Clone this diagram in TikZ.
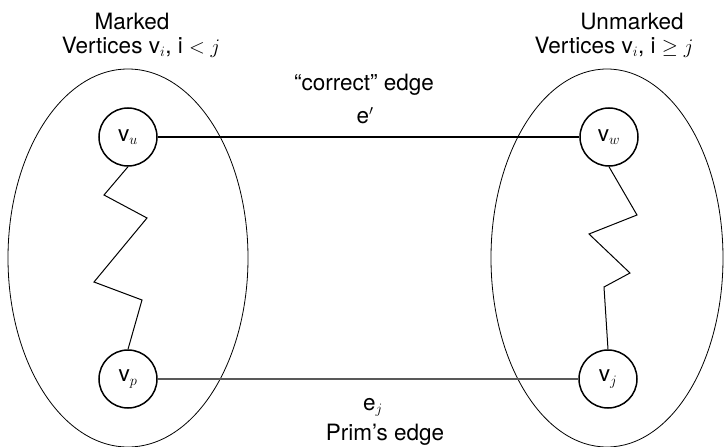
\documentclass[tikz,border=0pt]{standalone}
\usepackage{fontspec}
\setmainfont{TeX Gyre Heros}
\begin{document}
\begin{tikzpicture}[x=1pt,y=-1pt,
  vert/.style={circle,draw,line width=1.5pt,minimum size=58pt,inner sep=0pt},
  setline/.style={line width=0.8pt},
  edgeline/.style={line width=1.3pt},
  zig/.style={line width=1pt},
  lbl/.style={anchor=base,inner sep=0pt}]
\useasboundingbox (0,0) rectangle (724,447);
\fontsize{22.5}{26}\selectfont
\draw[setline] (128,258) ellipse [x radius=120, y radius=189];
\draw[setline] (607,258) ellipse [x radius=116, y radius=189];
\node[vert] (u) at (128,137) {v$_u$};
\node[vert] (p) at (128,379) {v$_p$};
\node[vert] (w) at (609,137) {v$_w$};
\node[vert] (j) at (608,379) {v$_j$};
\draw[edgeline] (u) -- (w);
\draw[edgeline,black!65] (p) -- (j);
\draw[zig] (u.south) -- (104,195) -- (147,218) -- (94,282) -- (142,300) -- (p.north);
\draw[zig] (w.south) -- (637,215) -- (589,234) -- (630,273) -- (604,287) -- (j.north);
\node[lbl] (m1) at (132,30) {Marked};
\node[lbl] (m2) at (141,53) {Vertices v$_i$, i $<j$};
\node[lbl] (n1) at (632,30) {Unmarked};
\node[lbl] (n2) at (614,53) {Vertices v$_i$, i $\geq j$};
\node[lbl] (c1) at (364,90) {“correct” edge};
\node[lbl] (c2) at (365,123) {e$'$};
\node[lbl] (p1) at (373,410) {e$_j$};
\node[lbl] (p2) at (385,440) {Prim’s edge};
\end{tikzpicture}
\end{document}
